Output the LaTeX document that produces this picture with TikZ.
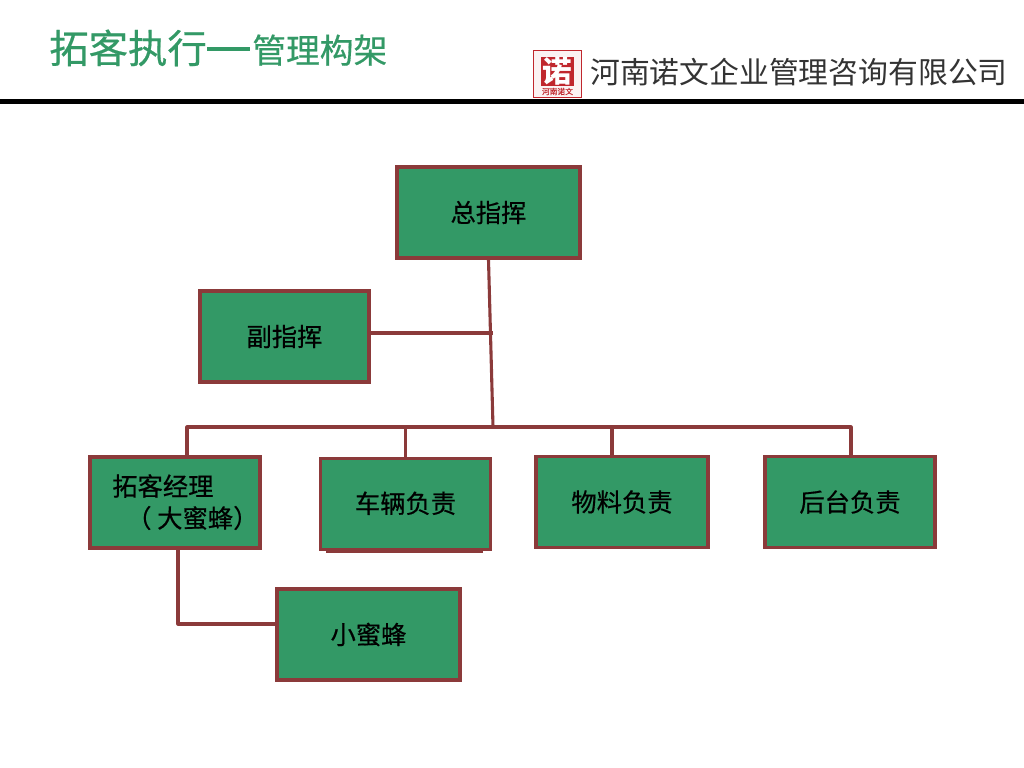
\documentclass[tikz,border=0pt]{standalone}
\usepackage{fontspec}
\setmainfont{Noto Sans CJK SC}
\newfontfamily\heavycjk[RawFeature={embolden=0.5}]{Noto Sans CJK SC}
\definecolor{boxgreen}{HTML}{339966}
\definecolor{linered}{HTML}{8B3A3A}
\definecolor{logored}{HTML}{C0272D}
\tikzset{
  orgbox/.style={draw=linered, line width=2.4pt, fill=boxgreen, inner sep=0pt, font=\heavycjk\fontsize{18}{23}\selectfont},
  orgline/.style={draw=linered, line width=2.2pt, line join=round},
  orgtext/.style={anchor=west, inner sep=0pt, font=\heavycjk\fontsize{18}{23}\selectfont}
}
\begin{document}
\begin{tikzpicture}[x=0.025cm, y=-0.025cm]
\useasboundingbox (0,0) rectangle (1024,768);

%%Cabecera
\node[text=boxgreen, anchor=base west, inner sep=0pt, font=\heavycjk\fontsize{28}{30}\selectfont] (titulo) at (49,63) {拓客执行};
\fill[boxgreen] (207,47.5) rectangle (250,51.5);
\node[text=boxgreen, anchor=base west, inner sep=0pt, font=\heavycjk\fontsize{24}{30}\selectfont] (subtitulo) at (252,63) {管理构架};
\node[anchor=base west, inner sep=0pt, text=black!80, font=\fontsize{21.2}{24}\selectfont] (empresa) at (590,84) {河南诺文企业管理咨询有限公司};
\fill[black] (0,99.5) rectangle (1024,104);

%%El logo
\draw[logored, fill=logored!6, line width=0.6pt] (533.5,50.5) rectangle (581.5,97);
\fill[logored] (541,57) rectangle (574,86);
\node[text=white, inner sep=0pt, font=\fontsize{21}{21}\bfseries\selectfont] (nuo) at (557.5,71) {诺};
\node[text=logored, inner sep=0pt, font=\heavycjk\fontsize{5.5}{5}\selectfont] (logotexto) at (557.5,91.5) {河南诺文};

%%Las cajas
\node[orgbox, minimum width=4.58cm, minimum height=2.28cm] (zong) at (488.5,212.5) {\raisebox{1pt}{总指挥}};
\node[orgbox, minimum width=4.22cm, minimum height=2.28cm] (fu) at (284.5,336.5) {\raisebox{1pt}{副指挥}};
\node[orgbox, minimum width=4.25cm, minimum height=2.28cm] (tuoke) at (175,502.5) {};
\node[orgbox, minimum width=4.25cm, minimum height=2.26cm] (cheliang) at (405.5,504) {\raisebox{2.5pt}{车辆负责}};
\node[orgbox, minimum width=4.3cm, minimum height=2.26cm] (wuliao) at (622,502) {物料负责};
\node[orgbox, minimum width=4.25cm, minimum height=2.26cm] (houtai) at (850,502) {后台负责};
\node[orgbox, minimum width=4.58cm, minimum height=2.28cm] (xiao) at (368.5,634.5) {\raisebox{1pt}{小蜜蜂}};
\node[orgtext] (tuokeuno) at (112,486) {拓客经理};
\node[orgtext] (tuokedos) at (126,518) {（ 大蜜蜂）};
\draw[linered, line width=1.5pt] (326,551.5) -- (483,551.5);

%%Las lineas
\coordinate (cruce) at (493,333);
\coordinate (tronco) at (493,427);
\coordinate (izq) at (187,427);
\coordinate (der) at (851,427);
\coordinate (medio) at (612,427);
\coordinate (codo) at (178,624);
\draw[orgline] (zong.south) -- (tronco);
\draw[orgline] (fu.east |- cruce) -- (cruce);
\draw[orgline] (tuoke.north -| izq) -- (izq) -- (der) -- (houtai.north -| der);
\draw[orgline] (cheliang.north) -- (cheliang.north |- tronco);
\draw[orgline] (wuliao.north -| medio) -- (medio);
\draw[orgline] (tuoke.south -| codo) -- (codo) -- (xiao.west |- codo);
\end{tikzpicture}
\end{document}
